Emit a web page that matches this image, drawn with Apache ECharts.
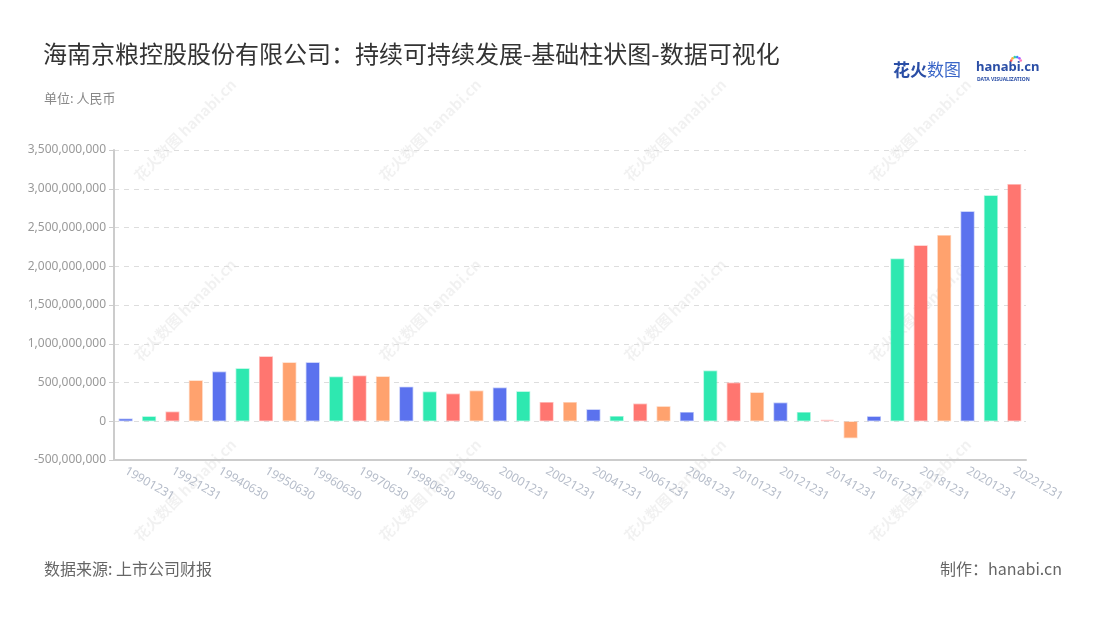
<!DOCTYPE html>
<html>
<head>
<meta charset="utf-8">
<script src="https://cdn.jsdelivr.net/npm/echarts@6/dist/echarts.min.js"></script>
<style>
html,body{margin:0;padding:0;background:#fff;}
#chart{width:1100px;height:620px;}
</style>
</head>
<body>
<div id="chart"></div>
<script>
const categories = ['19901231','19911231','19921231','19931231','19940630','19941231','19950630','19951231','19960630','19961231','19970630','19971231','19980630','19981231','19990630','19991231','20001231','20011231','20021231','20031231','20041231','20051231','20061231','20071231','20081231','20091231','20101231','20111231','20121231','20131231','20141231','20151231','20161231','20171231','20181231','20191231','20201231','20211231','20221231'];
const values = [35e6,65e6,125e6,529e6,641e6,684e6,839e6,761e6,761e6,577e6,590e6,581e6,446e6,383e6,357e6,396e6,435e6,387e6,249e6,249e6,155e6,68e6,228e6,195e6,120e6,654e6,499e6,374e6,241e6,120e6,17e6,-219e6,65e6,2099e6,2271e6,2404e6,2710e6,2916e6,3062e6];
const palette = ['#5b72ee','#2ee8b0','#ff7670','#ffa26e'];
const borderPalette = ['rgba(91,114,238,0.4)','rgba(46,232,176,0.4)','rgba(255,118,112,0.4)','rgba(255,162,110,0.4)'];
const titleText = '海南京粮控股股份有限公司：持续可持续发展-基础柱状图-数据可视化';
const unitText = '单位: 人民币';
const sourceText = '数据来源: 上市公司财报';
const makerText = '制作：hanabi.cn';

const chart = echarts.init(document.getElementById('chart'), null, {renderer:'canvas'});

const wm = [];
[185,430,675,920].forEach(function(x){
  [130,310,490].forEach(function(y){
    wm.push({
      type:'text', x:x, y:y, rotation: Math.PI/4, z:-1, silent:true,
      style:{text:'花火数图 hanabi.cn', fill:'rgba(0,0,0,0.055)', font:'bold 15px "Noto Sans CJK SC"', textAlign:'center', textVerticalAlign:'middle'}
    });
  });
});

const starColors = ['#ff5a5a','#ffb03a','#3ad29f','#3a8bff','#b45aff','#ff7ac0'];
const star = starColors.map(function(c, i){
  const a = -Math.PI*0.9 + i*Math.PI*0.16;
  return {type:'circle', shape:{cx:1016 + Math.cos(a)*5, cy:62 + Math.sin(a)*5, r:1.3}, style:{fill:c}};
});

const option = {
  backgroundColor:'#fff',
  animation:false,
  title:[{
    text: titleText, left:38, top:37,
    textStyle:{fontSize:24, fontWeight:'normal', color:'#333', fontFamily:'"Noto Sans CJK SC"'}
  },{
    text: unitText, left:39, top:87,
    textStyle:{fontSize:13, fontWeight:'normal', color:'#888', fontFamily:'"Noto Sans CJK SC"'}
  },{
    text: sourceText, left:39, top:556,
    textStyle:{fontSize:16, fontWeight:'normal', color:'#666', fontFamily:'"Noto Sans CJK SC"'}
  },{
    text: makerText, right:33, top:556,
    textStyle:{fontSize:16, fontWeight:'normal', color:'#666', fontFamily:'"Noto Sans CJK SC"'}
  }],
  graphic: wm.concat([
    {type:'text', x:893, y:61, style:{text:'花火', fill:'#2a4ea6', font:'bold 17px "Noto Sans CJK SC"'}},
    {type:'text', x:927, y:61, style:{text:'数图', fill:'#3a66c8', font:'17px "Noto Sans CJK SC"'}},
    {type:'text', x:976, y:61, style:{text:'hanabi.cn', fill:'#2a4ea6', font:'bold 13px "Noto Sans"'}},
    {type:'text', x:977, y:77, style:{text:'DATA VISUALIZATION', fill:'#2a4ea6', font:'bold 5px "Noto Sans"'}}
  ]).concat(star),
  grid:{left:114, right:74, top:150, bottom:160},
  xAxis:{
    type:'category',
    data: categories,
    axisLine:{onZero:false, lineStyle:{color:'#ccc', width:2}},
    axisTick:{alignWithLabel:true, interval:1, lineStyle:{color:'#bbb'}},
    axisLabel:{interval:1, rotate:-30, color:'#b5bcc9', fontSize:12, fontFamily:'"Noto Sans"', margin:10}
  },
  yAxis:{
    type:'value', min:-500000000, max:3500000000, interval:500000000,
    axisLine:{show:true, lineStyle:{color:'#ccc', width:2}},
    axisTick:{show:true, lineStyle:{color:'#ccc'}},
    axisLabel:{color:'#999', fontSize:12, fontFamily:'"Noto Sans"', formatter:function(v){return v.toLocaleString('en-US');}},
    splitLine:{lineStyle:{color:'#ddd', type:[5,5]}}
  },
  series:[{
    type:'bar',
    data: values.map(function(v,i){return {value:v, itemStyle:{color:palette[i%4], borderColor:borderPalette[i%4], borderWidth:1.5}};}),
    barWidth:14
  }]
};
chart.setOption(option);
</script>
</body>
</html>
